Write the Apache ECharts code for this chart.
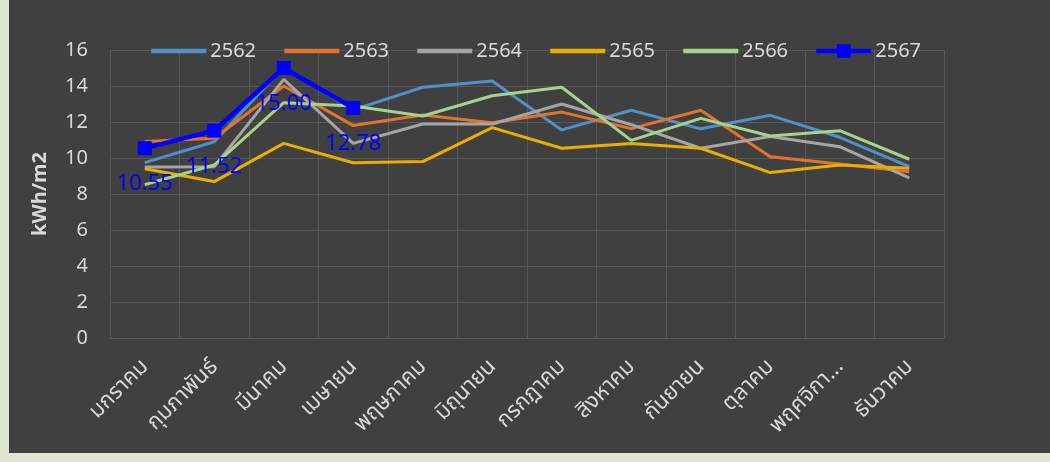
<!DOCTYPE html>
<html>
<head>
<meta charset="utf-8">
<script src="https://cdn.jsdelivr.net/npm/echarts@6/dist/echarts.min.js"></script>
<style>
    html, body { margin: 0; padding: 0; background: #dfe7d0; }
    #main { position: absolute; left: 9px; top: 0; width: 1041px; height: 453px; background: #404040; }
</style>
</head>
<body>
<div id="main"></div>
<script>
var months = ['มกราคม', 'กุมภาพันธ์', 'มีนาคม', 'เมษายน', 'พฤษภาคม', 'มิถุนายน', 'กรกฎาคม', 'สิงหาคม', 'กันยายน', 'ตุลาคม', 'พฤศจิกา...', 'ธันวาคม'];
var years = ['2562', '2563', '2564', '2565', '2566', '2567'];
var yTicks = [0, 2, 4, 6, 8, 10, 12, 14, 16];

var y2562 = [9.74, 10.9, 15.05, 12.67, 13.93, 14.28, 11.56, 12.65, 11.62, 12.37, 11.15, 9.52];
var y2563 = [10.92, 11.1, 14.0, 11.8, 12.39, 11.96, 12.55, 11.63, 12.65, 10.07, 9.67, 9.24];
var y2564 = [9.5, 9.52, 14.37, 10.81, 11.89, 11.89, 13.0, 11.85, 10.54, 11.19, 10.63, 8.9];
var y2565 = [9.4, 8.69, 10.81, 9.74, 9.8, 11.69, 10.54, 10.8, 10.54, 9.19, 9.61, 9.43];
var y2566 = [8.52, 9.61, 13.07, 12.89, 12.33, 13.46, 13.93, 10.98, 12.2, 11.22, 11.52, 9.93];
var y2567 = [10.55, 11.52, 15.00, 12.78];

var textColor = '#d9d9d9';
var gridColor = '#575757';
var fontFam = "'Noto Sans', 'Noto Sans Thai', 'Loma', 'Garuda', sans-serif";

var myChart = echarts.init(document.getElementById('main'));

function plainLine(name, data, color) {
    return {
        type: 'line',
        name: name,
        data: data,
        symbol: 'none',
        lineStyle: { width: 3, color: color },
        itemStyle: { color: color },
        z: 2
    };
}

// legend: plain lines without the default circle, 2567 keeps its square
var legendData = years.map(function (y) {
    if (y === '2567') {
        return { name: y };
    }
    return { name: y, itemStyle: { opacity: 0 } };
});

var option = {
    animation: false,
    textStyle: { fontFamily: fontFam },
    legend: {
        left: 140,
        top: 41,
        padding: 0,
        itemWidth: 55,
        itemHeight: 17,
        itemGap: 26,
        lineStyle: { width: 4.5 },
        textStyle: { color: textColor, fontSize: 20, fontFamily: fontFam, padding: [0, 0, 0, -1] },
        data: legendData
    },
    grid: {
        left: 101,
        right: 106,
        top: 50,
        bottom: 115
    },
    xAxis: {
        type: 'category',
        data: months,
        boundaryGap: true,
        axisLine: { show: true, lineStyle: { color: gridColor } },
        axisTick: { show: false },
        splitLine: { show: true, interval: 0, lineStyle: { color: gridColor } },
        axisLabel: {
            interval: 0,
            rotate: 45,
            margin: 25,
            color: textColor,
            fontSize: 22,
            fontFamily: fontFam
        }
    },
    yAxis: {
        type: 'value',
        min: yTicks[0],
        max: yTicks[yTicks.length - 1],
        interval: 2,
        name: 'kWh/m2',
        nameLocation: 'middle',
        nameRotate: 90,
        nameGap: 60,
        nameTextStyle: { color: textColor, fontSize: 20, fontWeight: 'bold', fontFamily: fontFam },
        axisLine: { show: false },
        axisTick: { show: false },
        splitLine: { lineStyle: { color: gridColor } },
        axisLabel: { color: textColor, fontSize: 20, margin: 22, fontFamily: fontFam }
    },
    series: [
        plainLine('2562', y2562, '#5090ca'),
        plainLine('2563', y2563, '#e2732c'),
        plainLine('2564', y2564, '#a5a5a5'),
        plainLine('2565', y2565, '#eaae00'),
        plainLine('2566', y2566, '#a6d38c'),
        {
            type: 'line',
            name: '2567',
            data: y2567,
            symbol: 'rect',
            symbolSize: 14,
            lineStyle: { width: 4.5, color: '#0000ff' },
            itemStyle: { color: '#0000ff' },
            z: 5,
            label: {
                show: true,
                position: 'bottom',
                distance: 18,
                color: '#0000ff',
                fontSize: 22,
                fontFamily: fontFam,
                formatter: function (p) {
                    return p.value.toFixed(2);
                }
            }
        }
    ]
};
myChart.setOption(option);
</script>
</body>
</html>
